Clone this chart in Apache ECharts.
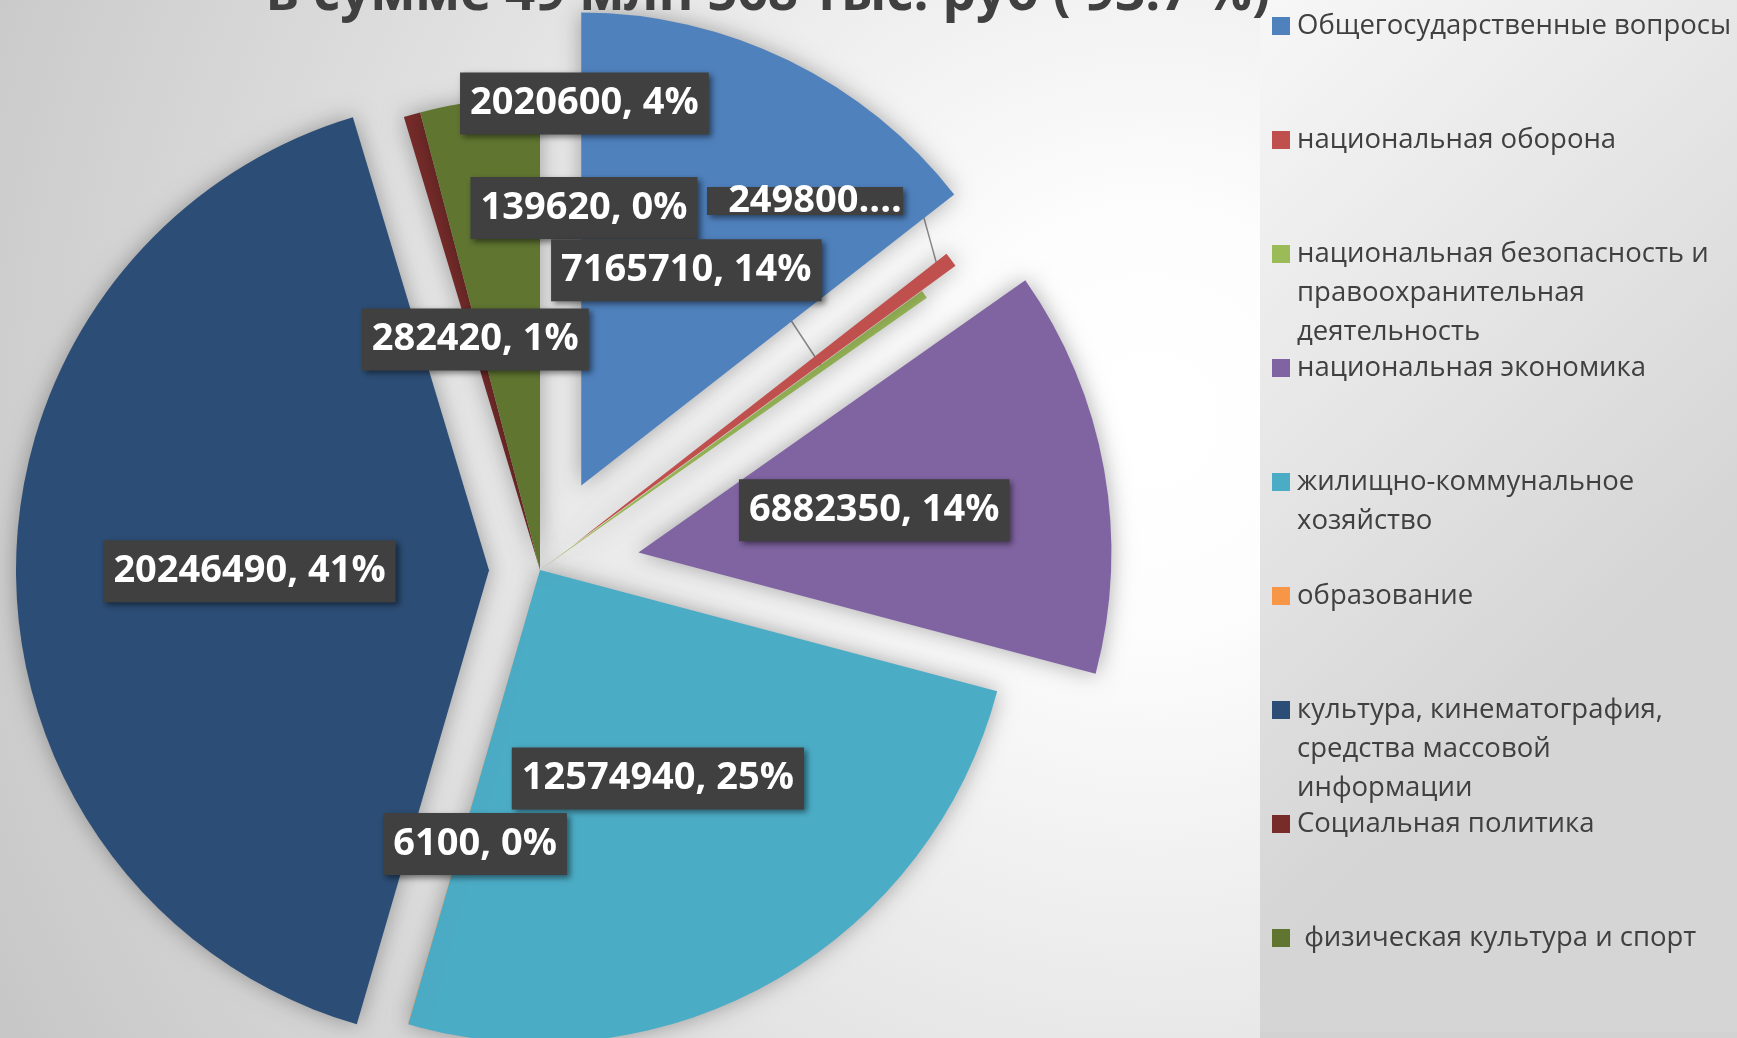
<!DOCTYPE html>
<html>
<head>
<meta charset="utf-8">
<script src="https://cdn.jsdelivr.net/npm/echarts@6/dist/echarts.min.js"></script>
<style>
html, body { margin: 0; padding: 0; }
#main { width: 1737px; height: 1038px; }
</style>
</head>
<body>
<div id="main"></div>
<script>
// данные
var names = ['Общегосударственные вопросы', 'национальная оборона',
	'национальная безопасность и правоохранительная деятельность', 'национальная экономика',
	'жилищно-коммунальное хозяйство', 'образование',
	'культура, кинематография, средства массовой информации', 'Социальная политика',
	'физическая культура и спорт'];
var values = [7165710, 249800, 139620, 6882350, 12574940, 6100, 20246490, 282420, 2020600];
var legendLines = [
	'Общегосударственные вопросы',
	'национальная оборона',
	'национальная безопасность и\nправоохранительная\nдеятельность',
	'национальная экономика',
	'жилищно-коммунальное\nхозяйство',
	'образование',
	'культура, кинематография,\nсредства массовой\nинформации',
	'Социальная политика',
	' физическая культура и спорт'];
var titleText = 'в сумме 49 млн 568 тыс. руб ( 93.7 %)';

// оформление
var colors = ['#4F81BD', '#C0504D', '#9BBB59', '#8064A2', '#4BACC6', '#F79646', '#2C4D75', '#772C2A', '#5F7530'];
var explode = [94, 42, 0, 100, 0, 0, 51, 0, 0];// вынос секторов, px
var center = [540, 570];
var R = 473;
var labelDx = [0, 0, 0, 0, 0, 2, 0, 0, 75];// сдвиг подписей мелких секторов
var labelDy = [0, 0, 0, 0, 0, 44, 0, 0, -229];
// подписи с выноской: [x, y, доля радиуса для конца выноски, отступ выноски от верха подписи]
var callout = { 1: [805, 201, 0.966, 0], 2: [584, 208, 0.734, 18] };

var total = 0;
values.forEach(function(v) { total += v; });

// середина сектора (от 12 часов по часовой), нужна для направления выноса
function midAngle(i) {
	var cum = 0;
	for (var k = 0; k < i; k++) cum += values[k];
	return (cum + values[i] / 2) / total * 2 * Math.PI;
}

// группы: невынесенные секторы в одной серии, каждый вынесенный - в своей со сдвинутым центром
var groups = [ { members: [], c: center } ];
for (var i = 0; i < values.length; i++) {
	if (explode[i] > 0) {
		var a = midAngle(i);
		groups.push({
			members: [ i ],
			c: [ center[0] + explode[i] * Math.sin(a), center[1] - explode[i] * Math.cos(a) ]
		});
	} else {
		groups[0].members.push(i);
	}
}

function moveLabel(p) {
	var i = p.dataIndex;
	var c = callout[i];
	if (c) {
		var sc = groups[p.seriesIndex].c;
		var w = p.labelRect.width, h = p.labelRect.height;
		var a = p.labelLinePoints ? p.labelLinePoints[0] : null;
		var res = { x: c[0], y: c[1], align: 'center', verticalAlign: 'middle' };
		if (a) {
			var tip = [ sc[0] + (a[0] - sc[0]) * c[2], sc[1] + (a[1] - sc[1]) * c[2] ];
			var ly = c[1] - h / 2 + c[3];
			res.labelLinePoints = [ tip, [ c[0] + w / 2 + 11, ly ], [ c[0] + w / 2, ly ] ];
		}
		return res;
	}
	return { dx: labelDx[i], dy: labelDy[i] };
}

function makeSeries(g) {
	var data = [];
	for (var i = 0; i < values.length; i++) {
		var item = { name: names[i], value: values[i] };
		if (g.members.indexOf(i) >= 0) {
			item.itemStyle = { color: colors[i] };
			if (callout[i]) {
				item.label = { show: true, position: 'outside' };
				item.labelLine = { show: true, length: 20, length2: 10 };
			}
			if (i === 1) {// Excel обрезал эту подпись
				item.label.width = 176;
				item.label.height = 28;
				item.label.lineHeight = 28;
				item.label.overflow = 'truncate';
				item.label.ellipsis = '....';
				item.label.padding = [ 0, 0, 0, 20 ];
			}
		} else {
			item.itemStyle = { color: 'rgba(0,0,0,0)', shadowBlur: 0 };
			item.label = { show: false };
			item.labelLine = { show: false };
		}
		data.push(item);
	}
	return {
		type: 'pie',
		center: g.c,
		radius: R,
		startAngle: 90,
		clockwise: true,
		minAngle: 0,
		avoidLabelOverlap: false,
		silent: true,
		animation: false,
		emphasis: { disabled: true },
		itemStyle: {
			borderWidth: 0,
			shadowBlur: 22,
			shadowColor: 'rgba(0,0,0,0.32)'
		},
		label: {
			show: true,
			position: 'inside',
			formatter: function(p) {
				return p.value + ', ' + Math.round(p.percent) + '%';
			},
			color: '#ffffff',
			fontFamily: 'Open Sans',
			fontWeight: 'bold',
			fontSize: 38,
			lineHeight: 44,
			backgroundColor: '#404040',
			padding: [ 9, 10 ],
			textBorderWidth: 0,
			shadowColor: 'rgba(0,0,0,0.5)',
			shadowBlur: 6,
			shadowOffsetX: 3,
			shadowOffsetY: 3
		},
		labelLine: {
			show: false,
			lineStyle: { color: '#8a8a8a', width: 1.5 }
		},
		labelLayout: moveLabel,
		data: data
	};
}

var series = groups.map(makeSeries);

// легенда: по компоненту на пункт; значок рисуется у первой строки,
// высокий невидимый контур значка центрирует текст относительно всей высоты
var LH = 39;
var legends = names.map(function(n, i) {
	var H = legendLines[i].split('\n').length * LH;
	var icon = 'path://M0,0L0.001,0M0,' + (LH / 2 - 9) + 'h18v18h-18zM20,' + H + 'L19.999,' + H;
	return {
		orient: 'vertical',
		left: 1272,
		top: 26 + 114 * i - LH / 2,
		padding: 0,
		itemWidth: 20,
		itemHeight: H,
		itemGap: 0,
		selectedMode: false,
		data: [ { name: n, icon: icon, itemStyle: { color: colors[i], borderWidth: 0 } } ],
		formatter: function() {
			return legendLines[i];
		},
		textStyle: {
			color: '#404040',
			fontFamily: 'Open Sans',
			fontSize: 27.5,
			lineHeight: LH
		}
	};
});

var option = {
	backgroundColor: new echarts.graphic.RadialGradient(1150, 420, 1350, [
		{ offset: 0, color: '#ffffff' },
		{ offset: 0.15, color: '#fdfdfd' },
		{ offset: 1, color: '#c4c4c4' }
	], true),
	title: {
		text: titleText,
		left: 261,
		top: -40,
		textStyle: {
			color: '#404040',
			fontFamily: 'Open Sans',
			fontWeight: 'bold',
			fontSize: 53,
			lineHeight: 60
		}
	},
	graphic: [ {
		type: 'rect',
		z: -10,
		shape: { x: 1260, y: 0, width: 477, height: 1032 },
		style: {
			fill: new echarts.graphic.LinearGradient(0, 0, 1, 0.5, [
				{ offset: 0, color: '#f7f7f7' },
				{ offset: 1, color: '#d5d5d5' }
			])
		}
	}, {
		type: 'rect',
		z: -10,
		shape: { x: 1260, y: 1032, width: 477, height: 6 },
		style: { fill: '#d2d2d2' }
	} ],
	legend: legends,
	series: series
};

var myChart = echarts.init(document.getElementById('main'));
myChart.setOption(option);
</script>
</body>
</html>
